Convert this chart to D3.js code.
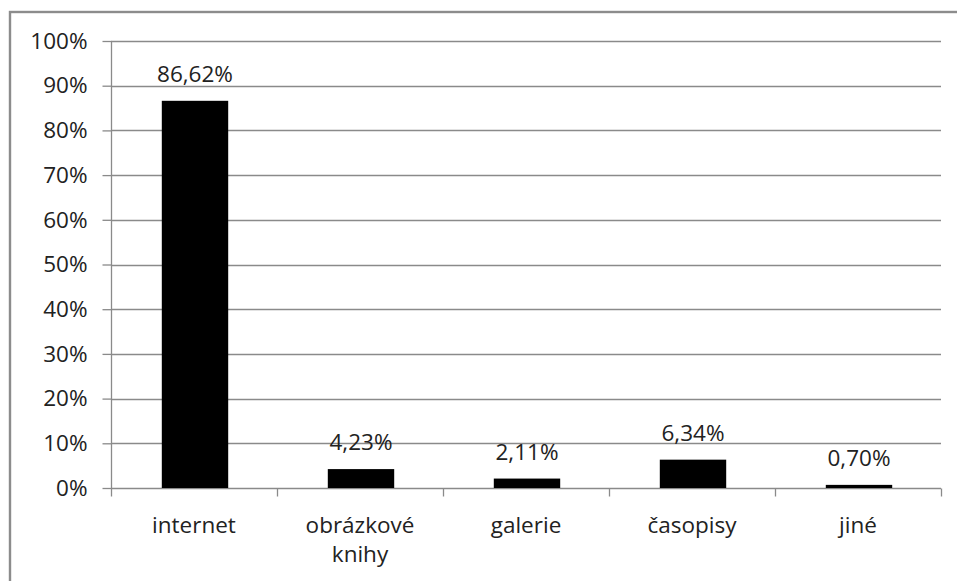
<!DOCTYPE html>
<html>
<head>
<meta charset="utf-8">
<script src="https://cdn.jsdelivr.net/npm/d3@7"></script>
<style>
  html, body { margin: 0; padding: 0; background: #fff; }
  svg { display: block; }
  text { font-family: "Open Sans", sans-serif; fill: #222; }
</style>
</head>
<body>
<svg id="chart" width="957" height="581"></svg>
<script>
const categories = ["internet", "obrázkové knihy", "galerie", "časopisy", "jiné"];
const values = [86.62, 4.23, 2.11, 6.34, 0.70];
const valueLabels = ["86,62%", "4,23%", "2,11%", "6,34%", "0,70%"];
const yTicks = [0, 10, 20, 30, 40, 50, 60, 70, 80, 90, 100];

const FONT = "'Open Sans', sans-serif";
const FS = 22.5;

const svg = d3.select("#chart");
const W = 957, H = 581;
const margin = { left: 111, right: 16, top: 41, bottom: 93 };
const x0 = margin.left, x1 = W - margin.right;
const yTop = margin.top, yBot = H - margin.bottom;

// outer border
svg.append("rect")
  .attr("x", 10).attr("y", 12)
  .attr("width", W + 10).attr("height", H + 10)
  .attr("fill", "none").attr("stroke", "#8c8c8c").attr("stroke-width", 2.4);

const x = d3.scaleBand().domain(categories).range([x0, x1]).paddingInner(0).paddingOuter(0);
const y = d3.scaleLinear().domain([0, 100]).range([yBot, yTop]);

// gridlines
svg.append("g").selectAll("line").data(yTicks.filter(d => d > 0)).join("line")
  .attr("x1", x0).attr("x2", x1)
  .attr("y1", d => Math.round(y(d)) + 0.5).attr("y2", d => Math.round(y(d)) + 0.5)
  .attr("stroke", "#8a8a8a").attr("stroke-width", 1.3);

// y axis
const yAxis = d3.axisLeft(y).tickValues(yTicks).tickSize(9).tickPadding(15)
  .tickFormat(d => d + "%");
const gy = svg.append("g").attr("transform", `translate(${x0 + 0.5},0)`).call(yAxis);
gy.select(".domain").attr("stroke", "#8a8a8a").attr("stroke-width", 1.3)
  .attr("d", `M0,${yTop}V${yBot}`);
gy.selectAll(".tick line").attr("stroke", "#8a8a8a").attr("stroke-width", 1.3);
gy.selectAll(".tick text").attr("font-size", FS).attr("fill", "#222")
  .style("font-family", FONT);

// x axis
const xAxis = d3.axisBottom(x).tickSize(0).tickFormat("");
const gx = svg.append("g").attr("transform", `translate(0,${Math.round(yBot) + 0.5})`).call(xAxis);
gx.select(".domain").attr("stroke", "#8a8a8a").attr("stroke-width", 1.3)
  .attr("d", `M${x0},0H${x1}`);
const bounds = categories.map(c => x(c)).concat([x1]);
gx.append("g").selectAll("line").data(bounds).join("line")
  .attr("x1", d => Math.round(d) + 0.5).attr("x2", d => Math.round(d) + 0.5)
  .attr("y1", 0).attr("y2", 8)
  .attr("stroke", "#8a8a8a").attr("stroke-width", 1.3);

// category labels
const catG = svg.append("g");
categories.forEach((c, i) => {
  const words = c === "obrázkové knihy" ? ["obrázkové", "knihy"] : [c];
  const t = catG.append("text")
    .attr("x", x(c) + x.bandwidth() / 2)
    .attr("y", yBot + 45)
    .attr("text-anchor", "middle")
    .attr("font-size", FS);
  words.forEach((w, j) => {
    t.append("tspan").attr("x", x(c) + x.bandwidth() / 2)
      .attr("dy", j === 0 ? 0 : 29).text(w);
  });
});

// bars
const bw = x.bandwidth() * 0.4;
svg.append("g").selectAll("rect").data(values).join("rect")
  .attr("x", (d, i) => x(categories[i]) + x.bandwidth() / 2 - bw / 2 + 1)
  .attr("y", d => y(d))
  .attr("width", bw)
  .attr("height", d => yBot - y(d))
  .attr("fill", "#000");

// value labels
svg.append("g").selectAll("text").data(values).join("text")
  .attr("x", (d, i) => x(categories[i]) + x.bandwidth() / 2 + 1)
  .attr("y", d => y(d) - 19)
  .attr("text-anchor", "middle")
  .attr("font-size", FS)
  .text((d, i) => valueLabels[i]);
</script>
</body>
</html>
